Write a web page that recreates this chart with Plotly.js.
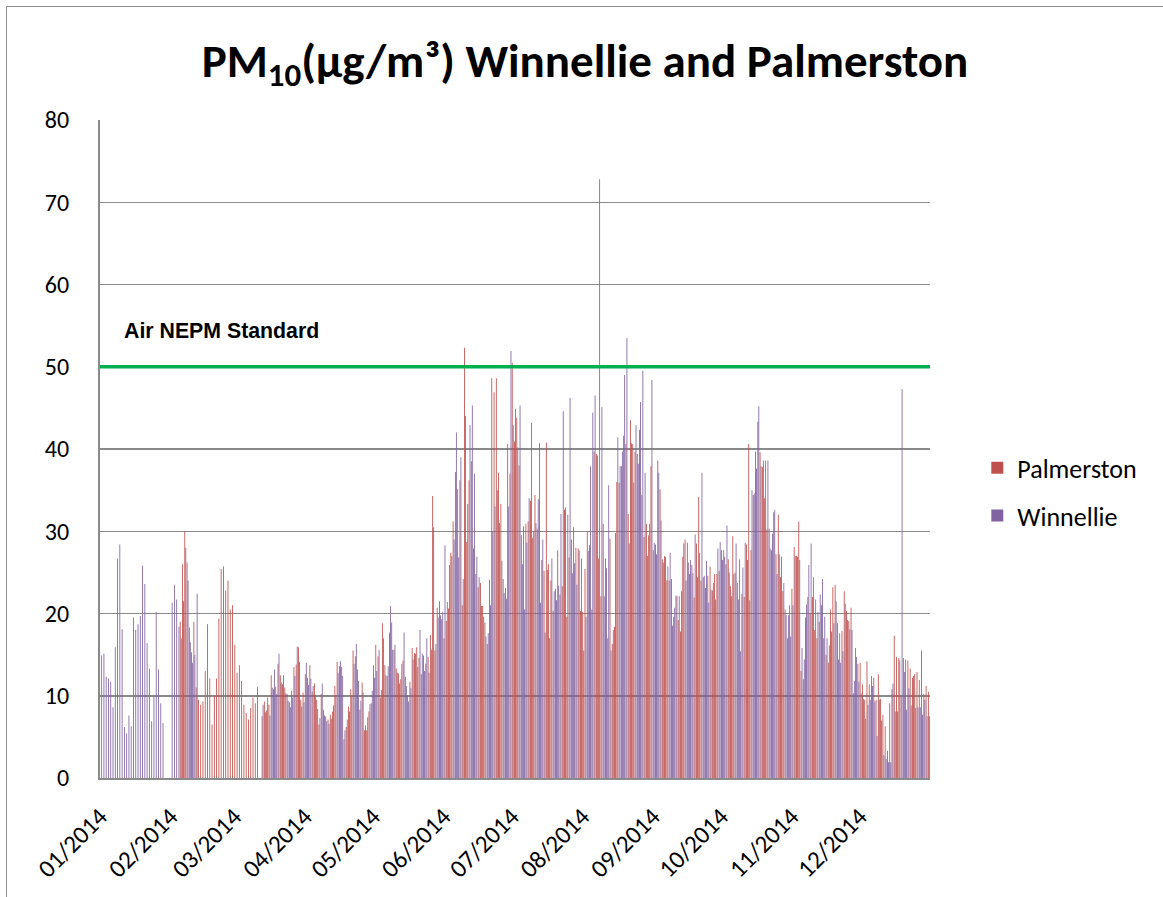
<!DOCTYPE html>
<html>
<head>
<meta charset="utf-8">
<script src="https://cdn.plot.ly/plotly-3.0.1.min.js"></script>
<style>
  html, body { margin: 0; padding: 0; background: #ffffff; overflow: hidden; }
  #chart { position: absolute; left: 0; top: 0; width: 1163px; height: 897px; }
  #frame { position: absolute; left: 6px; top: 6px; width: 1400px; height: 1200px;
           border-left: 1.5px solid #8e8e8e; border-top: 1.5px solid #8e8e8e; pointer-events: none; }
</style>
</head>
<body>
<div id="chart"></div>
<div id="frame"></div>
<script>
// ---------------- DATA ----------------
const year = 2014;
const dayCount = 365;
const seriesNames = ['Palmerston', 'Winnellie'];
const nepmStandard = 50;
const nepmLabel = 'Air NEPM Standard';
const chartTitle = 'PM<sub>10</sub>(µg/m³) Winnellie and Palmerston';
const monthTicks = ['2014-01-01','2014-02-01','2014-03-01','2014-04-01','2014-05-01','2014-06-01',
                    '2014-07-01','2014-08-01','2014-09-01','2014-10-01','2014-11-01','2014-12-01'];
const monthLabels = ['01/2014','02/2014','03/2014','04/2014','05/2014','06/2014',
                     '07/2014','08/2014','09/2014','10/2014','11/2014','12/2014'];

// Palmerston daily PM10 (µg/m³), by month (null = no data)
const palmJan = [null,null,null,null,null,null,null,null,null,null,null,null,null,null,null,null,null,null,null,null,null,null,null,null,null,null,null,null,null,null,null];
const palmFeb = [null,null,null,null,19,26,30,26.2,18.3,15.3,19,11,9.5,8.9,9.3,13,18.7,12.1,6.5,10,12.1,19.4,25.4,25.7,22.8,24,20.5,21];
const palmMar = [16.2,12.8,13.7,11.8,8.9,7.9,7.1,8.5,9.8,9.1,11.1,null,7.5,9.3,8.2,8.9,12.5,10.8,11.1,13.9,12.5,11.4,11,10.2,9.2,10.6,13.5,13.8,15.9,9.5,10.4];
const palmApr = [12.6,12.2,13.7,10.5,11.5,9.5,6.5,10.2,8.3,7.5,7.1,7.7,8.1,11.2,14.1,13.6,13.5,4.7,6.2,8.7,10.8,15.5,14.8,13.2,8.3,11.6,5.8,5.8,8.1,9.1];
const palmMay = [13.7,16.2,14.8,9.8,18.8,13.7,12.4,17.7,18.9,15.6,13.3,12.7,12,14.3,12.3,10,11.7,15.8,15.2,15.9,14.6,12.6,14.9,13.9,14.7,17.4,34.3,15.5,20.7,21.5,19.3];
const palmJun = [17,19.1,20.6,27.4,31.2,37.2,35.1,36.2,21,52.3,28.7,36.2,38.5,27.9,24.8,23.2,23.7,20.9,18.9,16.3,24.1,48.6,46.9,48.6,37.1,33.3,24.2,23.1,40.6,37];
const palmJul = [50.5,40.9,43.8,38,29.5,30.6,30.9,31.2,33.7,29.2,34.4,30.3,40.7,26.5,25.2,40.8,26,24,20.3,23,27.7,22.3,23.3,32.6,19.6,26.8,29,30.5,28,27.9,20.3];
const palmAug = [20.2,25.4,29.9,28.3,20.5,39.7,39.4,26.7,22.1,30.9,26.7,17,29.1,16.3,18.4,36,35.9,37.9,41.6,40.6,32.1,43.5,40.6,39.7,39.4,42.3,34.4,29.3,30.9,29.5,37.9];
const palmSep = [27.7,28.4,38.6,35.1,26.6,27,24,24,24.2,19.6,22.2,19.2,17.8,26.9,29,28.6,24.8,25.9,21.9,28.5,34.2,24,24.4,23.1,24.6,25.7,22.8,24.8,24.8,25.2];
const palmOct = [27.7,27.7,26,26.6,23.3,29.4,25,23.7,26.6,22.4,22,28.4,40.6,27.7,34.4,39.7,43.3,39.6,37.8,34,30.2,30.3,27.7,32.3,27.2,32,24.4,22.7,20.5,17,21];
const palmNov = [23,28.1,27,31.2,13,12,19.5,22,20,22,18,17,19,21,17,15,14,20.5,23.2,23.5,18.8,17.6,17.9,22.7,20.3,19.1,20.7,10.3,15.8,13.9];
const palmDec = [14,11.4,9.5,14.2,11.4,12.4,12.2,9.5,12.6,9.6,7.7,6.3,3.3,9.1,10.8,17.3,14.7,14.6,10,14.6,14.4,14.3,13.3,12.2,12.6,12.9,11.9,15.5,10.2,11.2,10.5];

// Winnellie daily PM10 (µg/m³), by month (null = no data)
const winnJan = [14.9,15.1,12.3,12.1,11.7,8.6,15.9,26.7,28.4,18.1,6.2,5.4,7.6,6.3,19.5,18,18.7,19.7,25.8,23.6,16.4,13.3,6.9,10,20.2,13.2,9.1,6.7,null,null,null];
const winnFeb = [21.3,23.5,21.7,18.4,17,21.5,28,24,16.5,14,15,22.4,null,null,null,null,null,null,null,null,null,null,null,null,null,null,null,null];
const winnMar = [null,null,null,null,null,null,null,null,null,null,null,null,8.9,8,9.8,7.6,11,13.2,10.2,15.1,11.6,12.5,10.3,9.4,8.6,9.8,12.4,16,14.1,8.7,9.2];
const winnApr = [14,11.3,12.1,11.2,10.1,8.4,7.3,11.5,7.6,6.9,6.6,7.2,8.8,10.1,12.8,14.2,12.4,5.8,7.1,8.1,9.9,13.9,16.3,11.8,9.4,10.4,6.4,7.4,9,10.6];
const winnMay = [12.2,13,15.6,10.7,17,12.5,13.6,20.9,15.6,16.2,12.8,11.5,13.9,17.7,11.2,9.3,10.9,14.4,15.1,13.5,18,15.1,13,17,12.8,15.6,30.5,16.3,19.5,19.8,20.2];
const winnJun = [28.3,21.4,25.9,27,29,42,26.8,39,24.2,44,33.3,42.9,45.3,37,26.9,24.4,20.9,19.6,17.2,17.6,21,30,33,35,31,26.4,22.5,21.8,33,51.9];
const winnJul = [42.9,44.9,40.2,45.3,26,20.5,28.6,34,43.2,30,31,33.9,21.3,29,17.7,25.3,17,26.7,22.7,21.6,23.4,32.1,44.6,32.9,32,46.2,24.9,26.1,23.5,27.7,26.7];
const winnAug = [15.5,19.6,27.6,37.9,44.4,46.5,39.2,72.8,45.1,22.1,25.5,35.6,15.5,18,29.8,41.4,37.9,39.7,49,53.5,28.5,40.7,35.9,42.9,38.2,45.7,49.5,37.1,27,30.9,48.4];
const winnSep = [28.6,27.2,37.1,31.3,26.2,26.9,25.7,27.4,18.5,20.7,22.1,22.1,22.7,28.5,24,26.2,26.5,24.9,29.6,24.4,27.4,37.1,24.6,26.4,21.3,22.9,23.7,21.7,27.9,28.7];
const winnOct = [26.5,26.9,30.7,25,22.1,24.8,28.5,21.7,15.4,25.6,28.6,26.5,21.6,35,34.6,37.6,45.2,37.9,38.6,38.6,38.6,27.9,29.7,32.6,24.8,27.2,26.9,23.7,19.8,19.8,17.2];
const winnNov = [21,27,26.9,26.5,15.8,14.4,21.1,25.9,28.5,24.4,21.7,20.2,22.3,24.2,19.6,17,16.1,17.8,18.8,21.5,14.4,14,15.4,21.2,19.2,18.1,18,11.8,14.7,11.7];
const winnDec = [10.3,9.6,7.2,8.9,9.5,11.2,9.3,5.1,9.5,7,2.8,2.3,1.9,1.9,11.5,8.1,8.1,14.3,47.3,12.9,8.3,10.9,8.8,12.4,8.5,8.6,8.6,7.7,9.5,7.5,7.5];

// ---------------- BUILD ----------------
const palmerston = [].concat(palmJan, palmFeb, palmMar, palmApr, palmMay, palmJun,
                             palmJul, palmAug, palmSep, palmOct, palmNov, palmDec);
const winnellie = [].concat(winnJan, winnFeb, winnMar, winnApr, winnMay, winnJun,
                            winnJul, winnAug, winnSep, winnOct, winnNov, winnDec);

const dates = [];
for (let i = 0; i < dayCount; i++) {
  const d = new Date(Date.UTC(year, 0, 1 + i));
  dates.push(d.toISOString().slice(0, 10) + ' 12:00');
}

const FONT = 'Carlito, Lato, "Open Sans", sans-serif';

const traces = [
  { type: 'bar', name: seriesNames[0], x: dates, y: palmerston,
    marker: { color: '#C0504D' }, legendgroup: 'p', hoverinfo: 'x+y' },
  { type: 'bar', name: seriesNames[1], x: dates, y: winnellie,
    marker: { color: '#8064A2' }, legendgroup: 'w', hoverinfo: 'x+y' }
];

const layout = {
  width: 1163, height: 897,
  paper_bgcolor: 'rgba(0,0,0,0)', plot_bgcolor: '#ffffff',
  margin: { l: 100, r: 233, t: 120, b: 119 },
  barmode: 'group', bargap: 0.12, bargroupgap: 0.15,
  title: {
    text: chartTitle,
    font: { family: FONT, size: 47, weight: 700, color: '#000000' },
    x: 0.503, xref: 'container', xanchor: 'center',
    y: 0.933, yref: 'container', yanchor: 'middle'
  },
  xaxis: {
    type: 'date',
    range: [year + '-01-01', (year + 1) + '-01-01'],
    tickmode: 'array', tickvals: monthTicks, ticktext: monthLabels,
    tickangle: -45,
    ticks: 'outside', ticklen: 12, tickcolor: 'rgba(0,0,0,0)',
    tickfont: { family: FONT, size: 25, color: '#000000' },
    showgrid: false, zeroline: false,
    showline: true, linecolor: '#8a8a8a', linewidth: 2
  },
  yaxis: {
    range: [0, 80], dtick: 10, tick0: 0,
    ticks: 'outside', ticklen: 24, tickcolor: 'rgba(0,0,0,0)',
    tickfont: { family: FONT, size: 24, color: '#000000' },
    showgrid: true, gridcolor: '#8a8a8a', gridwidth: 1.5,
    zeroline: false,
    showline: true, linecolor: '#8a8a8a', linewidth: 2
  },
  legend: {
    x: 1.057, xanchor: 'left', y: 0.507, yanchor: 'top',
    font: { family: FONT, size: 26, color: '#000000' },
    traceorder: 'grouped', tracegroupgap: 11,
    bgcolor: 'rgba(0,0,0,0)'
  },
  shapes: [{
    type: 'line', xref: 'paper', x0: 0, x1: 1, yref: 'y', y0: nepmStandard, y1: nepmStandard,
    line: { color: '#00B050', width: 3.5 }
  }],
  annotations: [{
    text: nepmLabel, xref: 'paper', x: 0.027, xanchor: 'left',
    yref: 'y', y: nepmStandard + 4.3, yanchor: 'middle', showarrow: false,
    font: { family: '"Liberation Sans", Arial, sans-serif', size: 21.3, weight: 700, color: '#000000' }
  }]
};

Plotly.newPlot('chart', traces, layout, { displayModeBar: false, staticPlot: true });
</script>
</body>
</html>
